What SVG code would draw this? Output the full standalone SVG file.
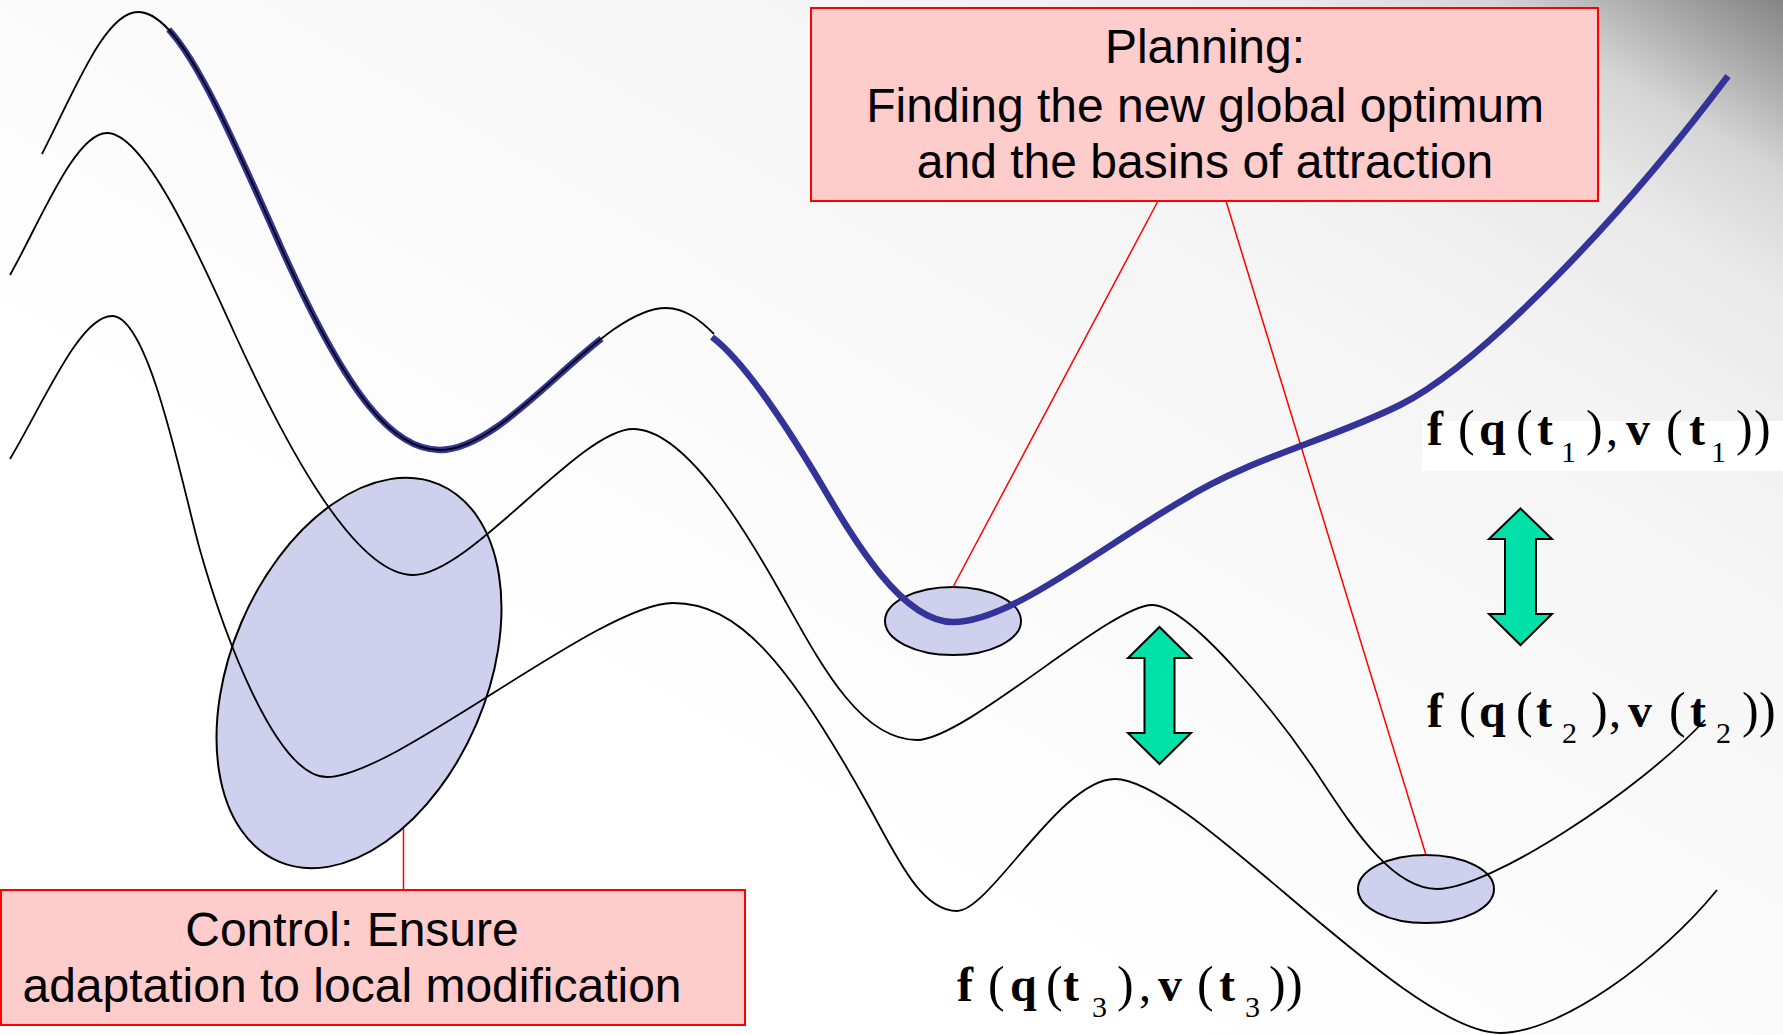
<svg xmlns="http://www.w3.org/2000/svg" width="1783" height="1035" viewBox="0 0 1783 1035">
<defs>
<linearGradient id="bg" gradientUnits="userSpaceOnUse" x1="1783" y1="0" x2="1171" y2="1032">
<stop offset="0" stop-color="#858585"/>
<stop offset="0.058" stop-color="#a9a9a9"/>
<stop offset="0.125" stop-color="#d5d5d5"/>
<stop offset="0.21" stop-color="#e9e9e9"/>
<stop offset="0.375" stop-color="#f4f4f4"/>
<stop offset="0.67" stop-color="#fafafa"/>
<stop offset="1" stop-color="#ffffff"/>
</linearGradient>
<style>
.curve{fill:none;stroke:#000;stroke-width:1.8}
.blue{fill:none;stroke:#333399;stroke-width:6.5;stroke-linecap:butt}
.box{fill:#ffcccc;stroke:#ff0000;stroke-width:2}
.lbl{font-family:"Liberation Sans",Arial,sans-serif;font-size:48px;fill:#000;text-anchor:middle}
.link{stroke:#ff0000;stroke-width:1.5;fill:none}
.basin{fill:#cfd0ee;stroke:#000;stroke-width:2}
.arrow{fill:#00e1a9;stroke:#000;stroke-width:2;stroke-linejoin:miter}
.eq{font-family:"Liberation Serif","Times New Roman",serif;font-size:48px;fill:#000}
.b{font-weight:bold}
.p{font-size:50px}
.sub{font-size:30px}
</style>
</defs>
<rect x="0" y="0" width="1783" height="1035" fill="url(#bg)"/>

<g id="basins">
<ellipse id="basin-control" class="basin" cx="359" cy="673" rx="128" ry="205" transform="rotate(23 359 673)"/>
<ellipse id="basin-global" class="basin" cx="953" cy="621" rx="68" ry="34"/>
<ellipse id="basin-t2" class="basin" cx="1426" cy="889" rx="68" ry="34"/>
</g>

<g id="connectors">
<line class="link" x1="1158" y1="201" x2="953" y2="587"/>
<line class="link" x1="1226" y1="201" x2="1426" y2="855"/>
<line class="link" x1="403.5" y1="829" x2="403.5" y2="890"/>
</g>

<g id="landscapes">
<path id="blue-left" class="blue" d="M168.6,29.4 C200.1,63.3 235,143.75 280,245 C350,402.5 395,450 440,450 C489,450 547.8,380.4 601.5,338.6"/>
<path id="curve-t1" class="curve" d="M42,154 C75,90 105,12 138,12 C178,12 220,110 280,245 C350,402.5 395,450 440,450 C510,450 600,308 666,308 C685,308 700,320 714,334"/>
<path id="blue-right" class="blue" d="M712,337 C745,362 790,432 817,477 C850,533 900,622 953,622 C1010,622 1100,548 1183,500 C1250,458 1330,440 1400,405 C1480,365 1620,220 1728,76"/>
<path id="curve-t2" class="curve" d="M10,275 C40,222 75,133 107,133 C145,133 200,257 233,330 C275,422 350,575 413,575 C470,575 580,429 633,429 C685,429 745,529 783,597 C820,663 860,740 917,740 C965,740 1110,605 1152,605 C1190,605 1280,718 1316,772 C1350,823 1390,889 1437,889 C1490,889 1640,790 1705,720"/>
<path id="curve-t3" class="curve" d="M10,459 C45,400 80,316 112,316 C150,316 183,490 200,550 C222,628 275,777 327,777 C395,777 600,603 673,603 C738,603 788.5,661.7 867,803 C895,853 920,911 957,911 C990,911 1060,779 1115,779 C1190,779 1405,1033 1500,1033 C1560,1033 1660,960 1717,890"/>
</g>

<g id="arrow-mid">
<path class="arrow" d="M1159.5,627 L1191,658 L1174.5,658 L1174.5,733 L1191,733 L1159.5,764 L1128,733 L1144.5,733 L1144.5,658 L1128,658 Z"/>
</g>
<g id="arrow-right">
<path class="arrow" d="M1520.5,508.5 L1552,539 L1536,539 L1536,614 L1552,614 L1520.5,645 L1489,614 L1505,614 L1505,539 L1489,539 Z"/>
</g>

<g id="planning">
<rect class="box" x="811" y="8" width="787" height="193"/>
<text class="lbl" x="1205" y="63">Planning:</text>
<text class="lbl" x="1205" y="122">Finding the new global optimum</text>
<text class="lbl" x="1205" y="178">and the basins of attraction</text>
</g>

<g id="control">
<rect class="box" x="1" y="890" width="744" height="135"/>
<text class="lbl" x="352" y="946">Control: Ensure</text>
<text class="lbl" x="352" y="1002">adaptation to local modification</text>
</g>

<g id="label-t1">
<rect x="1422" y="421" width="361" height="50" fill="#ffffff"/>
<text class="eq" y="445"><tspan class="b" x="1427">f</tspan><tspan class="p" x="1458">(</tspan><tspan class="b" x="1479">q</tspan><tspan class="p" x="1516">(</tspan><tspan class="b" x="1537">t</tspan><tspan class="sub" x="1561" y="462">1</tspan><tspan class="p" x="1586" y="445">)</tspan><tspan x="1606">,</tspan><tspan class="b" x="1626">v</tspan><tspan class="p" x="1666">(</tspan><tspan class="b" x="1689">t</tspan><tspan class="sub" x="1711" y="462">1</tspan><tspan class="p" x="1736" y="445">)</tspan><tspan class="p" x="1754">)</tspan></text>
</g>
<g id="label-t2">
<text class="eq" y="727"><tspan class="b" x="1427">f</tspan><tspan class="p" x="1459">(</tspan><tspan class="b" x="1479">q</tspan><tspan class="p" x="1516">(</tspan><tspan class="b" x="1536">t</tspan><tspan class="sub" x="1562" y="743">2</tspan><tspan class="p" x="1591" y="727">)</tspan><tspan x="1609">,</tspan><tspan class="b" x="1628">v</tspan><tspan class="p" x="1669">(</tspan><tspan class="b" x="1690">t</tspan><tspan class="sub" x="1716" y="743">2</tspan><tspan class="p" x="1742" y="727">)</tspan><tspan class="p" x="1759">)</tspan></text>
</g>
<g id="label-t3">
<text class="eq" y="1001"><tspan class="b" x="957">f</tspan><tspan class="p" x="988">(</tspan><tspan class="b" x="1010">q</tspan><tspan class="p" x="1046">(</tspan><tspan class="b" x="1063">t</tspan><tspan class="sub" x="1092" y="1017">3</tspan><tspan class="p" x="1117" y="1001">)</tspan><tspan x="1139">,</tspan><tspan class="b" x="1158">v</tspan><tspan class="p" x="1197">(</tspan><tspan class="b" x="1219">t</tspan><tspan class="sub" x="1245" y="1017">3</tspan><tspan class="p" x="1269" y="1001">)</tspan><tspan class="p" x="1286">)</tspan></text>
</g>
</svg>
